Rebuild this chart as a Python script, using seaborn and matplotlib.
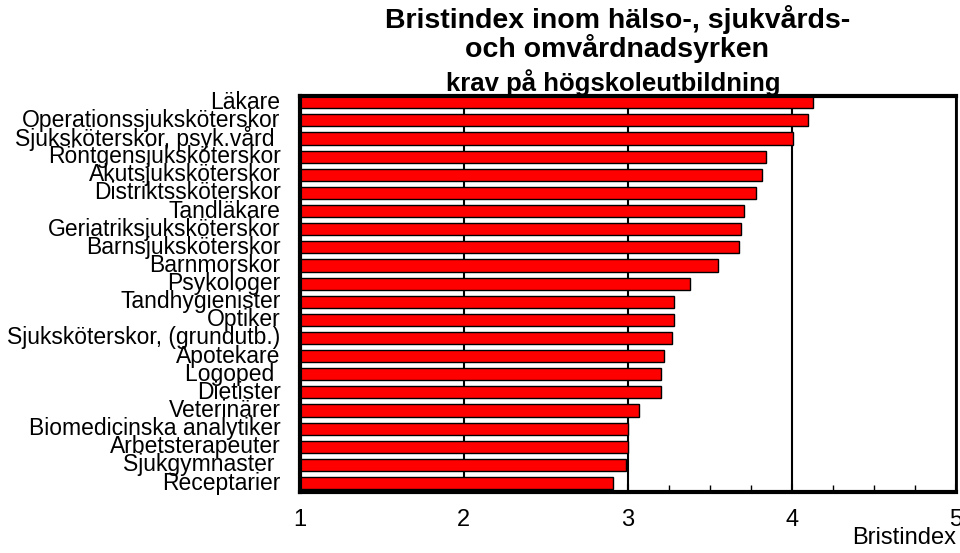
import matplotlib
matplotlib.use('Agg')
import matplotlib.pyplot as plt
import seaborn as sns
from matplotlib.ticker import MultipleLocator

# occupations and shortage index, top to bottom
yrken = ['Läkare', 'Operationssjuksköterskor', 'Sjuksköterskor, psyk.vård ',
         'Röntgensjuksköterskor', 'Akutsjuksköterskor', 'Distriktssköterskor',
         'Tandläkare', 'Geriatriksjuksköterskor', 'Barnsjuksköterskor',
         'Barnmorskor', 'Psykologer', 'Tandhygienister', 'Optiker',
         'Sjuksköterskor, (grundutb.)', 'Apotekare', 'Logoped ', 'Dietister',
         'Veterinärer', 'Biomedicinska analytiker', 'Arbetsterapeuter',
         'Sjukgymnaster ', 'Receptarier']
bristindex = [4.13, 4.10, 4.01, 3.84, 3.82, 3.78,
              3.71, 3.69, 3.68, 3.55, 3.38, 3.28, 3.28,
              3.27, 3.22, 3.20, 3.20, 3.07, 3.00, 3.00,
              2.99, 2.91]

sns.set_style('white')
plt.rcParams['font.family'] = ['Liberation Sans', 'DejaVu Sans']
plt.rcParams['text.color'] = 'black'
plt.rcParams['xtick.color'] = 'black'
plt.rcParams['ytick.color'] = 'black'

fig = plt.figure(figsize=(9.6, 5.53), dpi=100)
ax = fig.add_axes([0.3125, 0.110, 0.683, 0.716])

sns.barplot(x=bristindex, y=yrken, orient='h', color='#ff0000',
            edgecolor='black', linewidth=1.0, width=0.67, saturation=1, ax=ax)

ax.set_xlim(1, 5)
ax.set_ylim(21.5, -0.33)
ax.xaxis.set_major_locator(MultipleLocator(1))
ax.xaxis.set_minor_locator(MultipleLocator(0.25))
ax.grid(axis='x', which='major', color='black', linewidth=1.5, zorder=0)
ax.set_axisbelow(True)
ax.tick_params(axis='x', which='major', direction='in', length=6, width=1.5,
               labelsize=17, pad=12, bottom=True)
ax.tick_params(axis='x', which='minor', direction='in', length=5, width=1.0,
               bottom=True)
ax.tick_params(axis='y', length=0, labelsize=16.5, pad=14)
for lab in ax.get_yticklabels():
    lab.set_verticalalignment('center')

for side in ['left', 'bottom', 'top']:
    ax.spines[side].set_linewidth(3)
    ax.spines[side].set_color('black')
ax.spines['right'].set_linewidth(2)
ax.spines['right'].set_color('black')

ax.set_xlabel('')
ax.set_ylabel('')
fig.text(0.996, 0.008, 'Bristindex', ha='right', va='bottom', fontsize=17)

fig.text(0.643, 0.965, 'Bristindex inom hälso-, sjukvårds-', ha='center',
         va='center', fontsize=20.5, fontweight='bold')
fig.text(0.643, 0.913, 'och omvårdnadsyrken', ha='center', va='center',
         fontsize=20.5, fontweight='bold')
fig.text(0.639, 0.835, 'krav på högskoleutbildning', ha='center',
         va='baseline', fontsize=18.5, fontweight='bold')

fig.savefig('out.png', dpi=100)
